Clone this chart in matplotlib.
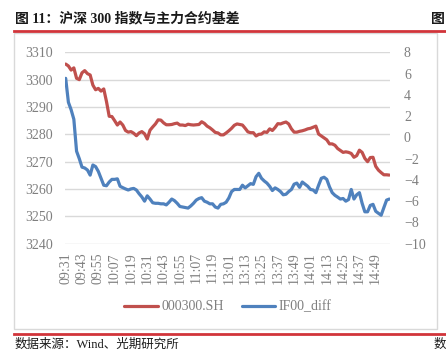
import matplotlib.pyplot as plt
from matplotlib.lines import Line2D
from matplotlib.patches import Rectangle

W, H = 446, 354

# two-minute samples, morning session then afternoon session
times = ['%02d:%02d' % divmod(m, 60) for m in range(9 * 60 + 31, 11 * 60 + 30, 2)] + \
        ['%02d:%02d' % divmod(m, 60) for m in range(13 * 60 + 1, 15 * 60, 2)]

index_close = [
    3305.7, 3305.0, 3303.5, 3304.3, 3300.5, 3300.0, 3302.5, 3303.3, 3302.2, 3301.7,
    3298.0, 3296.3, 3296.8, 3295.8, 3296.6, 3292.0, 3286.6, 3286.5, 3285.0, 3283.4,
    3284.5, 3283.4, 3281.4, 3280.8, 3281.0, 3280.4, 3279.5, 3280.5, 3281.0, 3280.2,
    3278.3, 3281.5, 3282.7, 3283.8, 3285.3, 3285.2, 3284.2, 3283.5, 3283.5, 3283.6,
    3283.9, 3284.1, 3283.4, 3283.4, 3283.2, 3283.7, 3283.5, 3283.4, 3283.5, 3283.6,
    3284.6, 3284.0, 3283.0, 3282.4, 3281.6, 3280.7, 3280.5, 3279.8, 3279.8, 3280.5,
    3281.3, 3282.2, 3283.3, 3283.8, 3283.6, 3283.4, 3282.2, 3280.9, 3280.6, 3280.6,
    3279.4, 3280.0, 3280.1, 3280.9, 3280.7, 3282.0, 3281.4, 3282.5, 3283.9, 3283.8,
    3284.2, 3284.5, 3283.8, 3282.0, 3280.8, 3280.8, 3281.1, 3281.3, 3281.6, 3282.0,
    3282.2, 3282.6, 3283.0, 3280.1, 3279.4, 3278.7, 3278.0, 3276.5, 3276.5, 3276.0,
    3274.8, 3274.1, 3273.4, 3273.6, 3273.4, 3273.0, 3271.6, 3272.2, 3274.2, 3273.4,
    3271.2, 3270.0, 3271.5, 3271.6, 3268.3, 3266.9, 3266.0, 3265.2, 3265.2, 3265.1,
]

basis = [
    5.55, 3.3, 2.6, 1.7, -1.3, -2.0, -2.8, -2.88, -3.07, -3.55,
    -2.6, -2.75, -3.2, -3.85, -4.5, -4.55, -4.2, -3.95, -3.95, -3.9,
    -4.6, -4.73, -4.85, -4.95, -4.85, -4.8, -4.95, -5.3, -5.6, -6.0,
    -5.5, -5.8, -6.15, -6.2, -6.2, -6.25, -6.25, -6.35, -6.1, -5.8,
    -5.95, -6.2, -6.5, -6.55, -6.6, -6.65, -6.45, -6.2, -5.9, -5.75,
    -5.67, -6.0, -6.1, -6.25, -6.25, -6.55, -6.65, -6.3, -6.25, -6.1,
    -5.7, -5.1, -4.9, -4.9, -4.9, -4.5, -4.75, -4.55, -4.35, -4.42,
    -3.7, -3.38, -3.85, -4.1, -4.3, -4.6, -5.0, -4.75, -4.9, -5.1,
    -5.4, -5.35, -5.1, -4.9, -4.4, -4.3, -4.7, -4.2, -4.4, -4.6,
    -4.9, -4.95, -5.2, -4.5, -3.85, -3.75, -3.95, -4.65, -5.2, -5.45,
    -5.62, -5.8, -5.75, -6.0, -5.85, -4.9, -5.8, -5.4, -5.2, -6.2,
    -7.0, -7.0, -6.4, -6.3, -6.95, -7.14, -7.32, -6.6, -5.9, -5.8,
]

left_ticks = list(range(3240, 3311, 10))
right_ticks = list(range(-10, 9, 2))

RED = '#c0504d'
BLUE = '#4f81bd'
GREY = '#7f7f7f'
SERIF = ['Liberation Serif', 'Noto Sans CJK SC']


def fx(x):
    return x / W


def fy(y):
    return 1 - y / H


fig = plt.figure(figsize=(W / 100, H / 100), dpi=100)

# frame of the chart and the red report rules
fig.add_artist(Rectangle((fx(14), fy(329)), fx(437) - fx(14), fy(33) - fy(329),
                         transform=fig.transFigure, fill=False, edgecolor='#d9d9d9', lw=1))
fig.add_artist(Line2D([fx(14), 1], [fy(31), fy(31)], transform=fig.transFigure, color='#d1343a', lw=2))
fig.add_artist(Line2D([fx(14), 1], [fy(334), fy(334)], transform=fig.transFigure, color='#d1343a', lw=2))

fig.text(fx(15), fy(19), '图 11：沪深 300 指数与主力合约基差', family=SERIF, fontsize=10,
         weight='bold', color='#1a1a1a', va='center', ha='left')
fig.text(fx(431), fy(19), '图', family=SERIF, fontsize=10, weight='bold', color='#1a1a1a',
         va='center', ha='left')
fig.text(fx(15), fy(345), '数据来源：Wind、光期研究所', family=SERIF, fontsize=9,
         color='#1a1a1a', va='center', ha='left')
fig.text(fx(434), fy(345), '数', family=SERIF, fontsize=9, color='#1a1a1a', va='center', ha='left')

ax = fig.add_axes([fx(65), fy(243.7), fx(390) - fx(65), fy(52.3) - fy(243.7)])
ax2 = ax.twinx()

x = list(range(len(times)))
l1, = ax.plot(x, index_close, color=RED, lw=2.3, solid_capstyle='round', label='000300.SH')
l2, = ax2.plot(x, basis, color=BLUE, lw=2.3, solid_capstyle='round', label='IF00_diff')

ax.set_xlim(-0.25, len(times) - 0.75)
ax.set_ylim(3240, 3310)
ax2.set_ylim(-10, 8)
ax.set_yticks(left_ticks)
ax2.set_yticks(right_ticks)
ax.set_xticks(x[::6])
ax.set_xticklabels(times[::6], rotation=90)

ax.yaxis.grid(True, color='#d9d9d9', lw=1)
ax.set_axisbelow(True)
for a in (ax, ax2):
    for s in a.spines.values():
        s.set_visible(False)
ax.tick_params(axis='y', length=0, pad=9, labelsize=10, labelcolor=GREY)
ax.tick_params(axis='x', length=0, pad=6, labelsize=10, labelcolor=GREY)
ax2.tick_params(axis='y', length=0, pad=10, labelsize=10, labelcolor=GREY)
for lab in ax.get_xticklabels() + ax.get_yticklabels() + ax2.get_yticklabels():
    lab.set_family(SERIF)

leg = fig.legend(handles=[l1, l2], loc='center', bbox_to_anchor=(fx(228), fy(307)), ncol=2,
                 frameon=False, handlelength=2.4, handletextpad=0.25, columnspacing=1.3,
                 prop={'family': SERIF, 'size': 10})
for t in leg.get_texts():
    t.set_color(GREY)

fig.savefig('out.png', dpi=100)
